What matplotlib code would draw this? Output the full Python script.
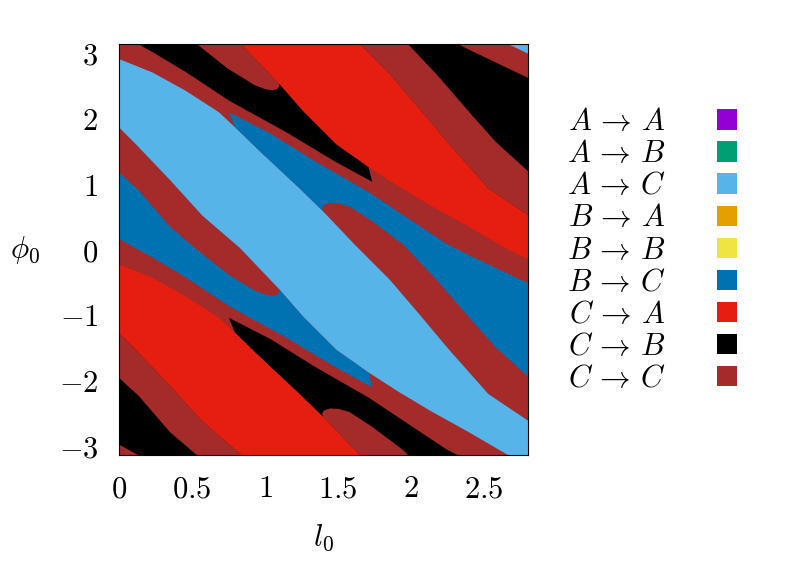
import numpy as np
import matplotlib
matplotlib.use('Agg')
import matplotlib.pyplot as plt
from matplotlib.patches import Patch

plt.rcParams['mathtext.fontset'] = 'cm'

# legend: transitions and their colours
transitions = [r'$A \,\rightarrow\, A$', r'$A \,\rightarrow\, B$', r'$A \,\rightarrow\, C$',
               r'$B \,\rightarrow\, A$', r'$B \,\rightarrow\, B$', r'$B \,\rightarrow\, C$',
               r'$C \,\rightarrow\, A$', r'$C \,\rightarrow\, B$', r'$C \,\rightarrow\, C$']
colors = ['#9400d3', '#009e73', '#56b4e9', '#e69f00', '#f0e442',
          '#0072b2', '#e51e10', '#000000', '#a52a2a']

l0_ticks = [0, 0.5, 1, 1.5, 2, 2.5]
phi0_ticks = [-3, -2, -1, 0, 1, 2, 3]

# region boundaries, as (l0, phi0) pairs.
# phi0 is periodic, so the curves are unwrapped past -pi and drawn again 2pi up.

# A -> C band
ac_upper = [(0.0, 2.912), (0.228, 2.708), (0.456, 2.428), (0.685, 2.097), (0.794, 1.868),
            (0.954, 1.521), (1.034, 1.353), (1.232, 0.940), (1.410, 0.553), (1.616, 0.069),
            (1.855, -0.466), (2.054, -0.986), (2.255, -1.521), (2.528, -2.209), (2.8, -2.617)]
ac_lower = [(0.0, 1.868), (0.114, 1.613), (0.349, 1.063), (0.571, 0.517), (0.828, 0.023),
            (1.102, -0.619), (1.262, -1.027), (1.490, -1.536), (1.627, -1.750), (1.707, -1.878),
            (1.912, -2.173), (2.141, -2.479), (2.369, -2.760), (2.663, -3.142), (2.8, -3.289)]

# B -> C wedges (outer edge of each, the inner edge is the A -> C band)
bc_wedge_1 = [(0.753, 2.097), (1.034, 1.776), (1.342, 1.348), (1.711, 0.874),
              (2.243, 0.084), (2.403, -0.094), (2.8, -0.517)]
bc_wedge_2 = [(0.0, 0.160), (0.228, -0.120), (0.456, -0.426), (0.760, -0.874),
              (1.141, -1.343), (1.483, -1.802), (1.734, -2.107)]

# C -> C tongues next to the A -> C band
cc_tongue_1 = [(1.395, 0.585), (1.390, 0.635), (1.405, 0.685), (1.445, 0.712), (1.505, 0.705),
               (1.580, 0.655), (1.734, 0.430), (1.947, 0.072), (2.175, -0.466), (2.396, -1.037),
               (2.579, -1.496), (2.8, -1.944)]
cc_tongue_2 = [(0.0, 1.180), (0.137, 0.899), (0.349, 0.349), (0.520, 0.023), (0.744, -0.375),
               (0.926, -0.625), (1.000, -0.690), (1.050, -0.708), (1.082, -0.690),
               (1.098, -0.645), (1.095, -0.600)]

# C -> A band
ca_upper = [(0.0, -0.230), (0.228, -0.434), (0.456, -0.714), (0.685, -1.045), (0.794, -1.274),
            (0.954, -1.621), (1.034, -1.789), (1.232, -2.202), (1.410, -2.589), (1.616, -3.073),
            (1.855, -3.608), (2.054, -4.128), (2.255, -4.663), (2.528, -5.351), (2.8, -5.759)]
ca_lower = [(0.0, -1.274), (0.114, -1.529), (0.349, -2.079), (0.571, -2.625), (0.828, -3.119),
            (1.102, -3.761), (1.262, -4.169), (1.490, -4.678), (1.627, -4.892), (1.707, -5.020),
            (1.912, -5.315), (2.141, -5.621), (2.369, -5.902), (2.663, -6.283), (2.8, -6.431)]

# C -> B wedges
cb_wedge_1 = [(0.753, -1.045), (1.034, -1.366), (1.342, -1.794), (1.711, -2.268),
              (2.243, -3.058), (2.403, -3.236), (2.8, -3.659)]
cb_wedge_2 = [(0.0, -2.982), (0.228, -3.262), (0.456, -3.568), (0.760, -4.016),
              (1.141, -4.485), (1.483, -4.944), (1.734, -5.249)]

# C -> C tongues next to the C -> A band
cc_tongue_3 = [(1.395, -2.557), (1.390, -2.507), (1.405, -2.457), (1.445, -2.430), (1.505, -2.437),
               (1.580, -2.487), (1.734, -2.712), (1.947, -3.070), (2.175, -3.608), (2.396, -4.179),
               (2.579, -4.638), (2.8, -5.086)]
cc_tongue_4 = [(0.0, -1.962), (0.137, -2.243), (0.349, -2.793), (0.520, -3.119), (0.744, -3.517),
               (0.926, -3.767), (1.000, -3.832), (1.050, -3.850), (1.082, -3.832),
               (1.098, -3.787), (1.095, -3.742)]


def hug(edge, band):
    # close an edge against the band it leans on (that part ends up under the band)
    lo, hi = edge[0][0], edge[-1][0]
    back = [p for p in band if lo <= p[0] <= hi][::-1]
    return edge + back


def draw(ax, poly, color):
    pts = np.array(poly)
    for shift in (-2 * np.pi, 0.0, 2 * np.pi):
        ax.fill(pts[:, 0], pts[:, 1] + shift, color=color, lw=0)


fig = plt.figure(figsize=(8.09, 5.65), dpi=100)
ax = fig.add_axes([0.1471, 0.1947, 0.5056, 0.7274])
ax.set_facecolor(colors[8])  # C -> C everywhere else

# A / B family
draw(ax, hug(bc_wedge_1, ac_upper), colors[5])
draw(ax, hug(bc_wedge_2, ac_lower), colors[5])
draw(ax, hug(cc_tongue_1, ac_upper), colors[8])
draw(ax, hug(cc_tongue_2, ac_lower), colors[8])
draw(ax, ac_upper + ac_lower[::-1], colors[2])

# C family
draw(ax, hug(cb_wedge_1, ca_upper), colors[7])
draw(ax, hug(cb_wedge_2, ca_lower), colors[7])
draw(ax, hug(cc_tongue_3, ca_upper), colors[8])
draw(ax, hug(cc_tongue_4, ca_lower), colors[8])
draw(ax, ca_upper + ca_lower[::-1], colors[6])

ax.set_xlim(0, 2.8)
ax.set_ylim(-np.pi, np.pi)

ax.set_xticks(l0_ticks, labels=['$%g$' % t for t in l0_ticks])
ax.set_yticks(phi0_ticks, labels=['$%d$' % t for t in phi0_ticks])
ax.tick_params(length=0, labelsize=22)
ax.tick_params(axis='x', pad=14)
ax.tick_params(axis='y', pad=15)
for s in ax.spines.values():
    s.set_linewidth(0.8)

ax.set_xlabel(r'$l_0$', fontsize=22, va='center')
ax.xaxis.set_label_coords(0.5, -0.202)
ax.set_ylabel(r'$\phi_0$', fontsize=22, rotation=0, ha='center', va='center')
ax.yaxis.set_label_coords(-0.23, 0.5)

handles = [Patch(facecolor=c, edgecolor='none') for c in colors]
fig.legend(handles, transitions, loc='center right', bbox_to_anchor=(0.911, 0.5575),
           frameon=False, markerfirst=False, fontsize=22, handlelength=0.65,
           handleheight=0.65, handletextpad=1.7, labelspacing=0.1,
           borderpad=0, borderaxespad=0)

fig.savefig('out.png', dpi=100)
